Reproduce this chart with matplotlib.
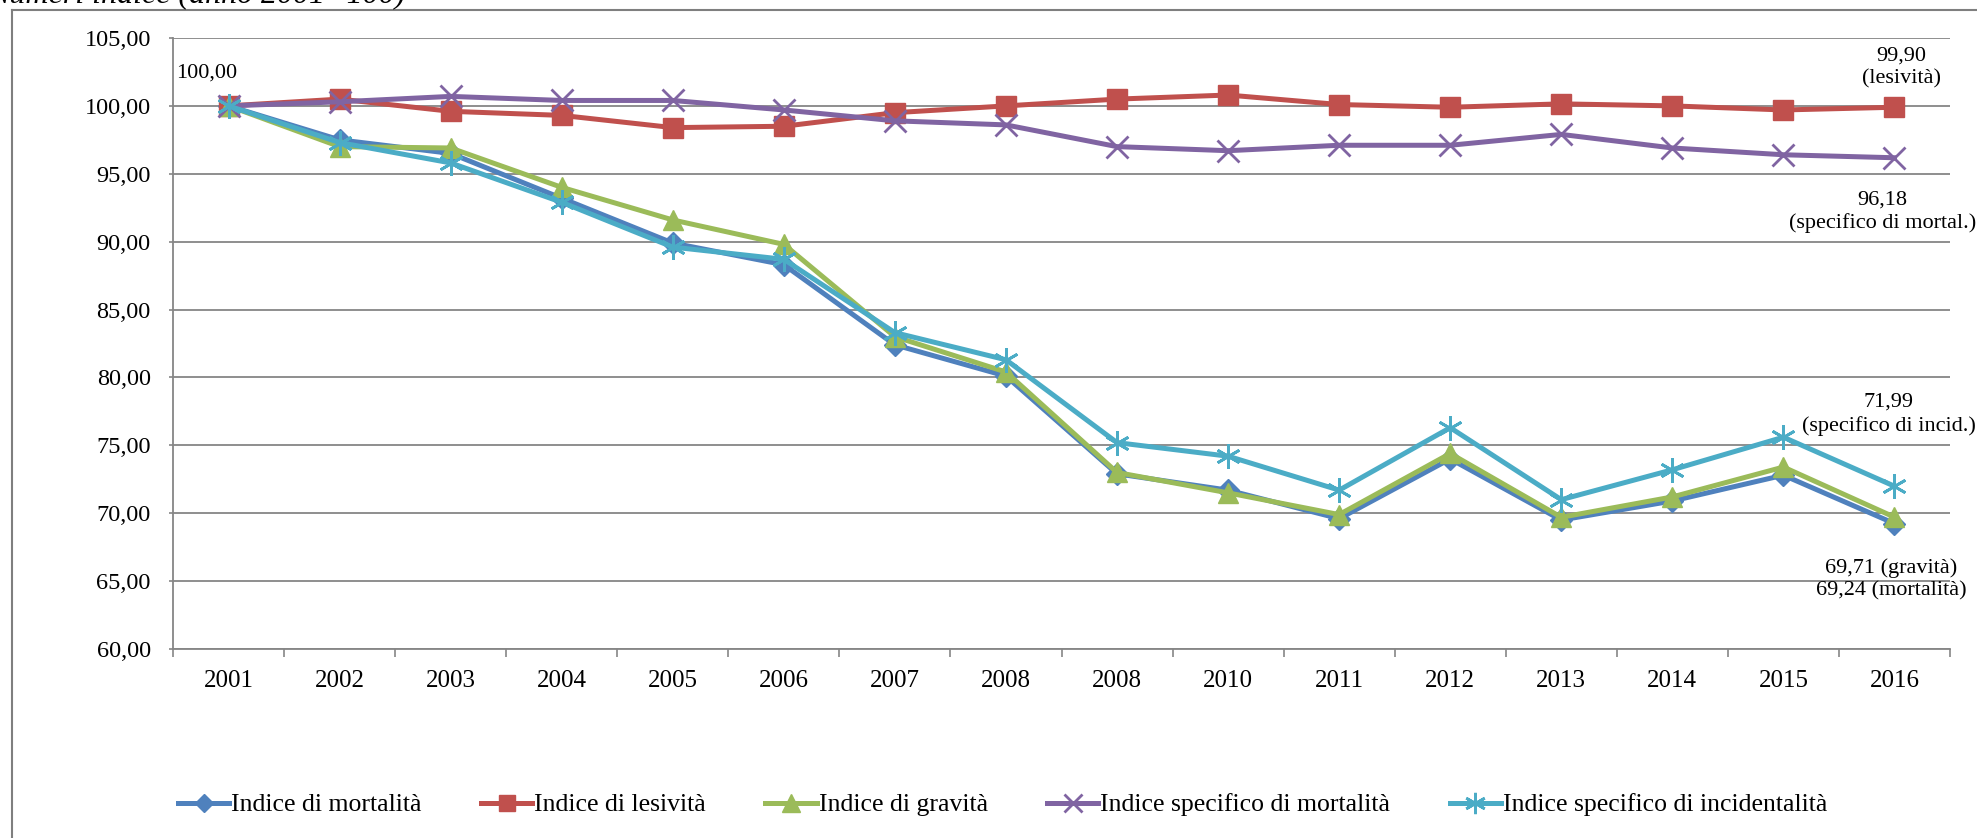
import matplotlib
matplotlib.use('Agg')
import matplotlib.pyplot as plt
from matplotlib.ticker import FuncFormatter, FixedLocator
from matplotlib.lines import Line2D

plt.rcParams['font.family'] = ['Liberation Serif', 'DejaVu Serif']

# dati (anno 2001 = 100)
years = ['2001', '2002', '2003', '2004', '2005', '2006', '2007', '2008',
         '2008', '2010', '2011', '2012', '2013', '2014', '2015', '2016']
mortalita = [100.00, 97.5, 96.5, 93.2, 89.9, 88.3, 82.4, 80.1,
             72.9, 71.7, 69.6, 74.0, 69.5, 70.9, 72.8, 69.24]
lesivita = [100.00, 100.5, 99.6, 99.3, 98.4, 98.5, 99.5, 100.0,
            100.5, 100.8, 100.1, 99.9, 100.15, 100.0, 99.7, 99.90]
gravita = [100.00, 97.0, 96.9, 94.0, 91.6, 89.8, 83.0, 80.4,
           73.0, 71.5, 69.9, 74.4, 69.7, 71.2, 73.4, 69.71]
spec_mort = [100.00, 100.3, 100.7, 100.4, 100.4, 99.7, 98.9, 98.6,
             97.0, 96.7, 97.1, 97.1, 97.9, 96.9, 96.4, 96.18]
spec_incid = [100.00, 97.3, 95.8, 92.9, 89.6, 88.7, 83.3, 81.3,
              75.2, 74.2, 71.7, 76.3, 71.0, 73.2, 75.6, 71.99]

labels = ['Indice di mortalità', 'Indice di lesività', 'Indice di gravità',
          'Indice specifico di mortalità', 'Indice specifico di incidentalità']
colors = ['#4F81BD', '#C0504D', '#9BBB59', '#8064A2', '#4BACC6']

W, H = 1977, 838
fig = plt.figure(figsize=(W / 100, H / 100), dpi=100)
ax = fig.add_axes([173 / W, 1 - 649 / H, (1950 - 173) / W, (649 - 38) / H])

x = list(range(len(years)))
series = [mortalita, lesivita, gravita, spec_mort, spec_incid]
styles = [dict(marker='D', ms=11),
          dict(marker='s', ms=14),
          dict(marker='^', ms=15),
          dict(marker='x', ms=16, mew=2),
          dict(marker=(6, 2, 0), ms=18, mew=2)]
handles = []
for vals, lab, c, st in zip(series, labels, colors, styles):
    ln, = ax.plot(x, vals, color=c, lw=3.6, label=lab, mec=c, mfc=c, **st)
    handles.append(ln)

ax.set_xlim(-0.5, len(years) - 0.5)
ax.set_ylim(60, 105)
ax.set_yticks(range(60, 106, 5))
ax.yaxis.set_major_formatter(FuncFormatter(lambda v, p: f'{v:.2f}'.replace('.', ',')))
ax.set_xticks(x)
ax.set_xticklabels(years)
ax.xaxis.set_minor_locator(FixedLocator([i - 0.5 for i in range(len(years) + 1)]))
ax.tick_params(axis='x', which='major', length=0, pad=15, labelsize=18)
ax.tick_params(axis='x', which='minor', length=6, width=1.2, color='#868686', direction='out')
ax.tick_params(axis='y', length=3, width=1.2, color='#868686', pad=13, labelsize=17.5)

ax.grid(axis='y', color='#868686', lw=1.3)
ax.set_axisbelow(True)
for s in ['top', 'right']:
    ax.spines[s].set_visible(False)
for s in ['left', 'bottom']:
    ax.spines[s].set_color('#868686')
    ax.spines[s].set_linewidth(1.3)

# etichette dei valori
ann = dict(textcoords='offset pixels', fontsize=16, linespacing=1.25)
ax.annotate('100,00', (x[0], lesivita[0]), xytext=(-52, 33), ha='left', va='center', **ann)
last = x[-1]
ax.annotate('99,90\n(lesività)', (last, lesivita[-1]), xytext=(7, 40),
            ha='center', va='center', **ann)
ax.annotate('96,18\n(specifico di mortal.)', (last, spec_mort[-1]), xytext=(-12, -54),
            ha='center', va='center', annotation_clip=False, **ann)
ax.annotate('71,99\n(specifico di incid.)', (last, spec_incid[-1]), xytext=(-6, 72),
            ha='center', va='center', **ann)
ax.annotate('69,71 (gravità)\n69,24 (mortalità)', (last, mortalita[-1]), xytext=(-3, -56),
            ha='center', va='center', **ann)

# cornice del grafico
fig.add_artist(Line2D([12 / W, 12 / W], [0, 1 - 10 / H], color='#7f7f7f', lw=1.5))
fig.add_artist(Line2D([12 / W, 1], [1 - 10 / H, 1 - 10 / H], color='#7f7f7f', lw=1.5))

fig.text(-12 / W, 1 - 3 / H, 'Numeri indice (anno 2001=100)', fontsize=23,
         style='italic', ha='left', va='baseline')

fig.legend(handles=handles, loc='center left', bbox_to_anchor=(178 / W, 1 - 805 / H),
           ncol=5, frameon=False, fontsize=18.5, handlelength=2.0, handletextpad=0.08,
           columnspacing=2.3, borderpad=0, borderaxespad=0, markerscale=0.85)

fig.savefig('out.png', dpi=100)
